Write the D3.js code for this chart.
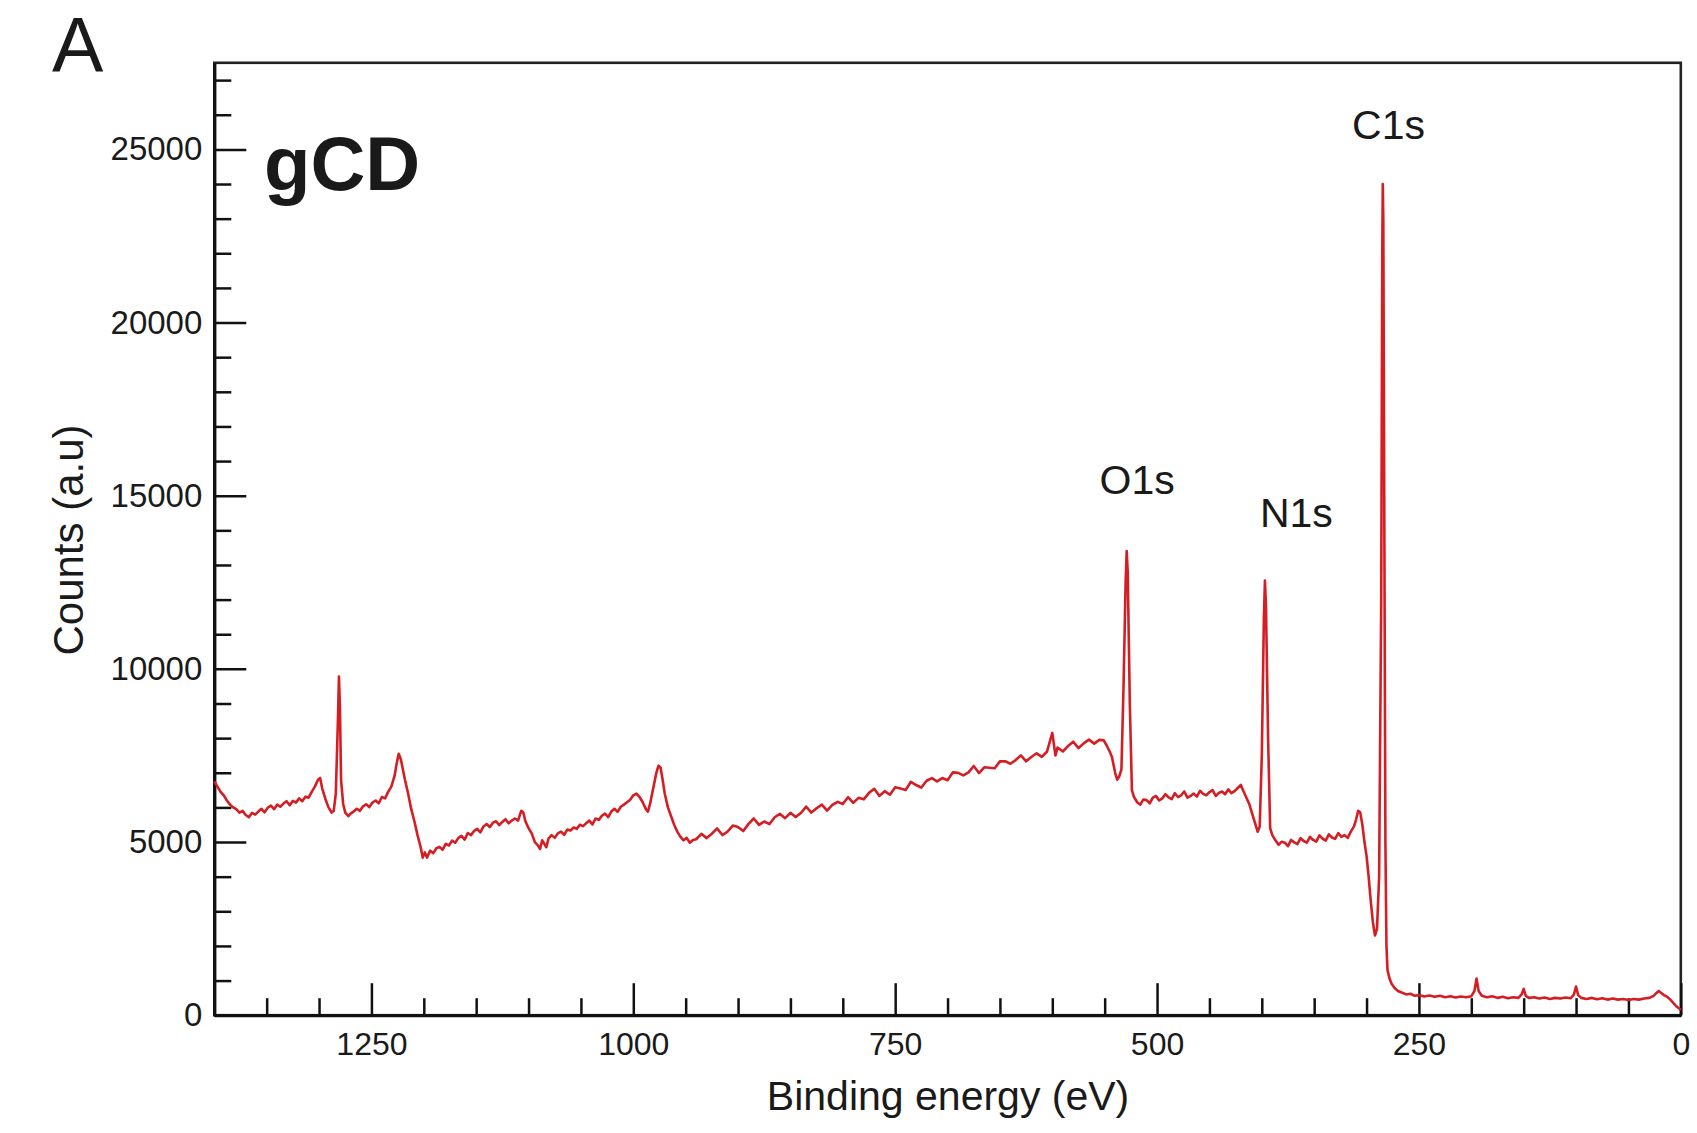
<!DOCTYPE html>
<html lang="en">
<head>
<meta charset="utf-8" />
<title>XPS survey - gCD</title>
<style>
  body { margin: 0; background: #fff; }
  svg text { font-family: "Liberation Sans", Arial, Helvetica, sans-serif; fill: #1a1a1a; }
  .axis path, .axis line { stroke: #111; }
  .axis text { font-size: 33px; }
  .spectrum { fill: none; stroke: #d41e24; stroke-width: 2.6px; stroke-linejoin: round; }
</style>
<script src="https://d3js.org/d3.v7.min.js"></script>
</head>
<body>
<svg width="1697" height="1133"></svg>
<script>
// survey scan: [binding energy (eV), counts]
var spectrum = [
  [1400, 6750], [1397, 6600], [1394, 6450], [1391, 6350], [1388, 6200], [1385, 6080], [1382, 6000],
  [1379, 5950], [1376, 5850], [1373, 5900], [1370, 5780], [1367, 5720], [1364, 5840], [1361, 5790],
  [1358, 5880], [1355, 5960], [1352, 5860], [1349, 5990], [1346, 6050], [1343, 5950], [1340, 6080],
  [1337, 6020], [1334, 6110], [1331, 6180], [1328, 6060], [1325, 6190], [1322, 6140], [1319, 6260],
  [1316, 6180], [1313, 6310], [1310, 6280], [1307, 6450], [1304, 6600], [1301, 6800], [1299, 6850],
  [1297, 6550], [1294, 6250], [1291, 6000], [1288, 5850], [1286, 5900], [1284, 6400], [1282, 8500],
  [1281, 9780], [1280, 8800], [1279, 6800], [1277, 6100], [1275, 5850], [1272, 5750], [1270, 5820],
  [1267, 5880], [1264, 5960], [1261, 5900], [1258, 6030], [1255, 6090], [1252, 6010], [1249, 6140],
  [1246, 6200], [1243, 6120], [1240, 6300], [1237, 6260], [1234, 6450], [1231, 6600], [1228, 6900],
  [1226, 7250], [1224, 7550], [1222, 7400], [1220, 7100], [1218, 6800], [1215, 6400], [1212, 5950],
  [1209, 5600], [1206, 5200], [1203, 4850], [1201, 4550], [1199, 4700], [1197, 4550], [1194, 4750],
  [1191, 4680], [1188, 4820], [1185, 4860], [1182, 4780], [1179, 4950], [1176, 4900], [1173, 5040],
  [1170, 4980], [1167, 5120], [1164, 5180], [1161, 5070], [1158, 5260], [1155, 5200], [1152, 5320],
  [1149, 5380], [1146, 5280], [1143, 5450], [1140, 5520], [1137, 5430], [1134, 5560], [1131, 5600],
  [1128, 5490], [1125, 5580], [1122, 5660], [1119, 5540], [1116, 5620], [1113, 5680], [1110, 5620],
  [1107, 5900], [1105, 5850], [1103, 5600], [1100, 5400], [1097, 5250], [1094, 5000], [1091, 4900],
  [1089, 4800], [1087, 5050], [1085, 4950], [1083, 4850], [1081, 5100], [1078, 5200], [1075, 5120],
  [1072, 5250], [1069, 5300], [1066, 5210], [1063, 5360], [1060, 5330], [1057, 5420], [1054, 5380],
  [1051, 5500], [1048, 5460], [1045, 5540], [1042, 5620], [1039, 5510], [1036, 5680], [1033, 5640],
  [1030, 5760], [1027, 5820], [1024, 5720], [1021, 5880], [1018, 5960], [1015, 5870], [1012, 6020],
  [1009, 6080], [1006, 6150], [1003, 6220], [1000, 6350], [997, 6400], [994, 6300], [991, 6150],
  [988, 5950], [986, 5880], [984, 6100], [982, 6400], [980, 6700], [978, 7000], [976, 7200],
  [974, 7150], [972, 6800], [970, 6400], [967, 6000], [964, 5750], [961, 5500], [958, 5300],
  [955, 5150], [952, 5050], [949, 5120], [946, 4980], [943, 5060], [940, 5080], [935, 5236],
  [930, 5113], [925, 5239], [920, 5395], [915, 5202], [910, 5298], [905, 5474], [900, 5431],
  [895, 5317], [890, 5524], [885, 5680], [880, 5496], [875, 5593], [870, 5519], [865, 5715],
  [860, 5812], [855, 5688], [850, 5844], [845, 5721], [840, 5837], [835, 6023], [830, 5850],
  [825, 5976], [820, 6082], [815, 5909], [810, 6075], [805, 6161], [800, 6098], [795, 6294],
  [790, 6130], [785, 6277], [780, 6233], [775, 6419], [770, 6536], [765, 6332], [760, 6468],
  [755, 6365], [750, 6581], [745, 6547], [740, 6504], [735, 6740], [730, 6646], [725, 6573],
  [720, 6769], [715, 6845], [710, 6752], [705, 6848], [700, 6785], [695, 7011], [690, 6997],
  [685, 6924], [680, 7010], [675, 7196], [670, 6993], [665, 7159], [660, 7145], [655, 7132],
  [650, 7328], [645, 7334], [640, 7261], [635, 7367], [630, 7503], [625, 7330], [620, 7456],
  [615, 7562], [610, 7459], [605, 7615], [600, 8150], [597, 7500], [595, 7728], [590, 7614],
  [585, 7770], [580, 7897], [575, 7713], [570, 7849], [565, 7956], [560, 7842], [555, 7949],
  [551, 7940], [548, 7780], [545, 7600], [543, 7450], [540, 7000], [538, 6800], [536, 6900],
  [534, 7100], [532, 9500], [530, 12500], [529, 13400], [528, 12800], [526, 9000], [524, 6500],
  [522, 6300], [519, 6150], [516, 6080], [513, 6230], [510, 6210], [507, 6120], [504, 6280],
  [501, 6330], [498, 6200], [495, 6260], [492, 6380], [489, 6290], [486, 6240], [483, 6410],
  [480, 6300], [477, 6350], [474, 6460], [471, 6280], [468, 6330], [465, 6400], [462, 6310],
  [459, 6480], [456, 6390], [453, 6350], [450, 6440], [447, 6500], [444, 6330], [441, 6420],
  [438, 6460], [435, 6380], [432, 6520], [429, 6410], [426, 6470], [423, 6560], [420, 6650],
  [418, 6500], [415, 6300], [412, 6100], [409, 5800], [406, 5500], [404, 5300], [402, 5450],
  [400, 7500], [398, 11500], [397, 12550], [396, 11800], [394, 8000], [392, 5400], [390, 5200],
  [387, 5050], [384, 4920], [381, 5010], [378, 4980], [375, 4880], [372, 5060], [369, 4990],
  [366, 4940], [363, 5110], [360, 5030], [357, 4980], [354, 5150], [351, 5060], [348, 5010],
  [345, 5190], [342, 5100], [339, 5040], [336, 5220], [333, 5130], [330, 5090], [327, 5260],
  [324, 5150], [321, 5200], [318, 5120], [315, 5300], [312, 5450], [310, 5650], [308, 5900],
  [306, 5850], [304, 5500], [302, 5000], [300, 4600], [298, 4000], [296, 3300], [294, 2700],
  [292, 2300], [290, 2500], [288, 4000], [286, 12000], [285, 22000], [284.5, 24000], [284, 23000],
  [283, 14000], [282, 5000], [281, 2000], [280, 1300], [278, 1050], [276, 900], [273, 780],
  [270, 700], [266, 650], [262, 600], [258, 620], [254, 560], [250, 580], [245, 540],
  [240, 570], [235, 530], [230, 560], [225, 520], [220, 550], [215, 510], [210, 540],
  [205, 520], [200, 550], [197, 700], [195, 1060], [193, 700], [190, 560], [185, 520],
  [180, 550], [175, 500], [170, 530], [165, 490], [160, 520], [155, 500], [152, 600],
  [150, 760], [148, 560], [145, 500], [140, 520], [135, 480], [130, 510], [125, 470],
  [120, 500], [115, 480], [110, 510], [105, 490], [102, 600], [100, 830], [98, 580],
  [95, 500], [90, 470], [85, 500], [80, 460], [75, 490], [70, 450], [65, 480],
  [60, 450], [55, 470], [50, 440], [45, 470], [40, 450], [35, 480], [30, 500],
  [26, 560], [23, 650], [21, 700], [19, 650], [16, 580], [13, 530], [10, 450],
  [7, 350], [4, 250], [1, 180], [0, 150]
];

var xMajorTicks = [1250, 1000, 750, 500, 250, 0];
var yMajorTicks = [0, 5000, 10000, 15000, 20000, 25000];

// peak assignments and where their labels sit (data units)
var peakNames = ["O1s", "N1s", "C1s"];
var labelEnergy = [519, 367, 279];
var labelCounts = [15050, 14100, 25300];

var svg = d3.select("svg");

var plotLeft = 214.3, plotRight = 1680.8, plotTop = 62.8, plotBottom = 1015.2;

var x = d3.scaleLinear().domain([1400, 0]).range([plotLeft, plotRight]);
var y = d3.scaleLinear().domain([0, 27500]).range([plotBottom, plotTop]);

// frame
svg.append("rect")
  .attr("x", plotLeft).attr("y", plotTop)
  .attr("width", plotRight - plotLeft).attr("height", plotBottom - plotTop)
  .attr("fill", "none")
  .attr("stroke", "#222")
  .attr("stroke-width", 2.6);

// minor ticks every 50 eV / 1000 counts, pointing inward
svg.append("g")
  .attr("class", "axis")
  .attr("transform", "translate(0," + plotBottom + ")")
  .call(d3.axisBottom(x).tickValues(d3.range(50, 1400, 50).filter(function (v) { return v % 250 !== 0; }))
    .tickSize(-17).tickFormat(""))
  .call(function (g) { g.select(".domain").remove(); })
  .selectAll("line").attr("stroke-width", 2.5);

svg.append("g")
  .attr("class", "axis")
  .attr("transform", "translate(" + plotLeft + ",0)")
  .call(d3.axisLeft(y).tickValues(d3.range(1000, 27500, 1000).filter(function (v) { return v % 5000 !== 0; }))
    .tickSize(-17).tickFormat(""))
  .call(function (g) { g.select(".domain").remove(); })
  .selectAll("line").attr("stroke-width", 2.5);

// major ticks + labels
var xAxis = svg.append("g")
  .attr("class", "axis")
  .attr("transform", "translate(0," + plotBottom + ")")
  .call(d3.axisBottom(x).tickValues(xMajorTicks).tickFormat(d3.format("d"))
    .tickSizeInner(-32).tickSizeOuter(0).tickPadding(17));
xAxis.select(".domain").attr("stroke-width", 3.2);
xAxis.selectAll("line").attr("stroke-width", 2.5);
xAxis.selectAll("text").style("font-size", "32px");

var yAxis = svg.append("g")
  .attr("class", "axis")
  .attr("transform", "translate(" + plotLeft + ",0)")
  .call(d3.axisLeft(y).tickValues(yMajorTicks).tickFormat(d3.format("d"))
    .tickSizeInner(-32).tickSizeOuter(0).tickPadding(12));
yAxis.select(".domain").attr("stroke-width", 3.2);
yAxis.selectAll("line").attr("stroke-width", 2.5);

// spectrum
var line = d3.line()
  .x(function (d) { return x(d[0]); })
  .y(function (d) { return y(d[1]); });

svg.append("path")
  .datum(spectrum)
  .attr("class", "spectrum")
  .attr("d", line);

// peak labels
svg.selectAll(".peak")
  .data(peakNames)
  .enter()
  .append("text")
  .attr("class", "peak")
  .attr("x", function (d, i) { return x(labelEnergy[i]); })
  .attr("y", function (d, i) { return y(labelCounts[i]); })
  .attr("text-anchor", "middle")
  .style("font-size", "41px")
  .text(function (d) { return d; });

// axis titles
svg.append("text")
  .attr("x", (plotLeft + plotRight) / 2 + 0.5)
  .attr("y", 1110)
  .attr("text-anchor", "middle")
  .style("font-size", "41px")
  .text("Binding energy (eV)");

svg.append("text")
  .attr("transform", "translate(83,540) rotate(-90)")
  .attr("text-anchor", "middle")
  .style("font-size", "42px")
  .text("Counts (a.u)");

// sample name and panel letter
svg.append("text")
  .attr("x", 264)
  .attr("y", 190)
  .style("font-size", "76px")
  .style("font-weight", "bold")
  .text("gCD");

svg.append("text")
  .attr("x", 52)
  .attr("y", 72)
  .style("font-size", "77px")
  .text("A");
</script>
</body>
</html>
